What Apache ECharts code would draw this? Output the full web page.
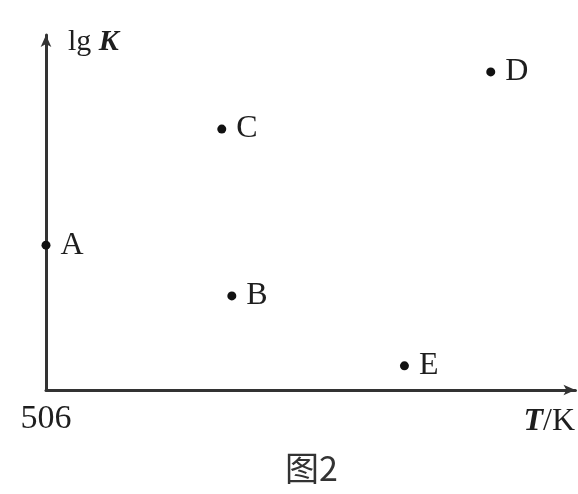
<!DOCTYPE html>
<html>
<head>
<meta charset="utf-8">
<script src="https://cdn.jsdelivr.net/npm/echarts@6/dist/echarts.min.js"></script>
<style>
  html, body { margin: 0; padding: 0; background: #fff; }
  #chart-container { width: 578px; height: 494px; }
</style>
</head>
<body>
<div id="chart-container"></div>
<script>
var pointNames = ['A', 'B', 'C', 'D', 'E'];
var tValues = [0, 35.1, 33.2, 84.0, 67.7];
var lgKValues = [40.8, 26.5, 73.5, 89.6, 6.8];
var xTickLabels = ['506'];

var dom = document.getElementById('chart-container');
var myChart = echarts.init(dom);
var option;

var serif = '"Liberation Serif", "DejaVu Serif", serif';
var ink = '#1e1e1e';

option = {
  title: {
    text: '图2',
    left: 280,
    bottom: 4,
    textStyle: { fontFamily: '"Noto Sans CJK SC", serif', fontSize: 34, fontWeight: 'normal', color: '#333' }
  },
  grid: { left: 46, right: 2, top: 35, bottom: 104 },
  xAxis: {
    type: 'value',
    min: 0,
    max: 100,
    splitLine: { show: false },
    axisTick: { show: false },
    axisLine: {
      lineStyle: { color: '#333', width: 3 },
      symbol: ['none', 'arrow'],
      symbolSize: [8, 12]
    },
    axisLabel: {
      showMaxLabel: false,
      margin: 12,
      fontFamily: serif,
      fontSize: 34,
      color: ink,
      formatter: function (v) { return v === 0 ? xTickLabels[0] : ''; }
    },
    name: '{t|T}{k|/K}',
    nameLocation: 'end',
    nameGap: -52,
    nameTextStyle: {
      verticalAlign: 'top',
      padding: [16, 0, 0, 0],
      rich: {
        t: { fontFamily: serif, fontSize: 32, fontStyle: 'italic', fontWeight: 'bold', color: ink },
        k: { fontFamily: serif, fontSize: 32, color: ink }
      }
    }
  },
  yAxis: {
    type: 'value',
    min: 0,
    max: 100,
    splitLine: { show: false },
    axisTick: { show: false },
    axisLabel: { show: false },
    axisLine: {
      lineStyle: { color: '#333', width: 3 },
      symbol: ['none', 'arrow'],
      symbolSize: [8, 12]
    },
    name: '{n|lg }{k|K}',
    nameLocation: 'end',
    nameGap: -22,
    nameTextStyle: {
      align: 'left',
      padding: [0, 0, 0, 22],
      rich: {
        n: { fontFamily: serif, fontSize: 30, color: ink },
        k: { fontFamily: serif, fontSize: 30, color: ink, fontStyle: 'italic', fontWeight: 'bold' }
      }
    }
  },
  series: [
    {
      type: 'scatter',
      symbolSize: 9,
      itemStyle: { color: '#111', opacity: 1 },
      label: {
        show: true,
        position: 'right',
        distance: 10,
        fontFamily: serif,
        fontSize: 32,
        color: ink,
        formatter: function (p) { return p.data[2]; }
      },
      data: pointNames.map(function (n, i) { return [tValues[i], lgKValues[i], n]; })
    }
  ]
};

if (option && typeof option === 'object') {
  myChart.setOption(option);
}

window.addEventListener('resize', myChart.resize);
</script>
</body>
</html>
